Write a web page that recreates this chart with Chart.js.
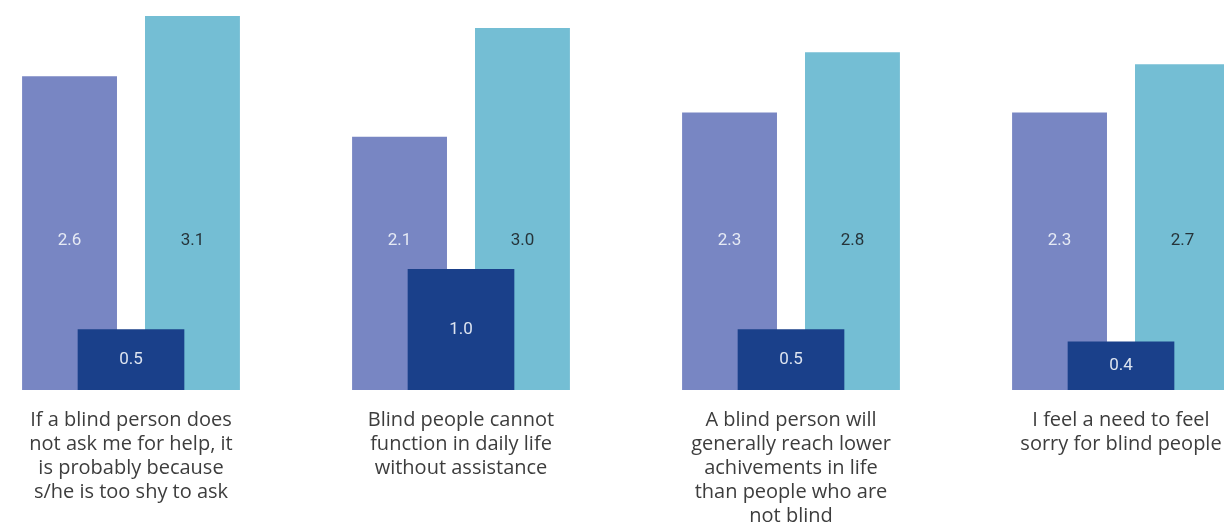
<!DOCTYPE html>
<html>
<head>
<meta charset="utf-8">
<script src="https://cdn.jsdelivr.net/npm/chart.js@4.4.1/dist/chart.umd.min.js"></script>
<style>
  html, body { margin: 0; padding: 0; background: #fff; overflow: hidden; }
  #wrap { position: absolute; left: -34px; top: 0; width: 1320px; height: 546px; }
</style>
</head>
<body>
<div id="wrap"><canvas id="attitude_chart" width="1320" height="546"></canvas></div>
<script>
// categories (statements), one array of lines each
var categories = [
  ["If a blind person does", "not ask me for help, it", "is probably because", "s/he is too shy to ask"],
  ["Blind people cannot", "function in daily life", "without assistance"],
  ["A blind person will", "generally reach lower", "achivements in life", "than people who are", "not blind"],
  ["I feel a need to feel", "sorry for blind people"]
];

// series values
var series_a = [2.6, 2.1, 2.3, 2.3];
var series_b = [3.1, 3.0, 2.8, 2.7];
var series_c = [0.5, 1.0, 0.5, 0.4];

// label colours per dataset
var labelColors = ["#e6eaf4", "#26343a", "#dde4f0"];

var valueLabels = {
  id: 'valueLabels',
  afterDatasetsDraw: function(chart) {
    var ctx = chart.ctx;
    var yScale = chart.scales.y;
    ctx.save();
    ctx.font = "17px Roboto";
    ctx.textAlign = "center";
    ctx.textBaseline = "middle";
    chart.data.datasets.forEach(function(ds, i) {
      var meta = chart.getDatasetMeta(i);
      meta.data.forEach(function(bar, j) {
        var y;
        if (ds.grouped === false) {
          y = (bar.y + bar.base) / 2;
        } else {
          y = yScale.getPixelForValue(1.24);
        }
        ctx.fillStyle = labelColors[i];
        ctx.fillText(ds.data[j].toFixed(1), bar.x, y);
      });
    });
    ctx.restore();
  }
};

var ctx = document.getElementById("attitude_chart").getContext('2d');
var attitude_chart = new Chart(ctx, {
  type: 'bar',
  data: {
    labels: categories,
    datasets: [{
      data: series_a,
      backgroundColor: "#7886c3",
      categoryPercentage: 0.745,
      barPercentage: 0.772,
      order: 1
    }, {
      data: series_b,
      backgroundColor: "#74bed4",
      categoryPercentage: 0.745,
      barPercentage: 0.772,
      order: 1
    }, {
      data: series_c,
      backgroundColor: "#1a408a",
      grouped: false,
      barThickness: 106,
      order: 0
    }]
  },
  options: {
    responsive: false,
    animation: false,
    devicePixelRatio: 1,
    layout: { padding: { top: 16, bottom: 0, left: 0, right: 0 } },
    plugins: {
      legend: { display: false },
      tooltip: { enabled: false }
    },
    scales: {
      x: {
        grid: { display: false, drawTicks: false },
        border: { display: false },
        ticks: {
          padding: 18,
          color: "#3d3d3d",
          maxRotation: 0,
          autoSkip: false,
          font: { family: "Open Sans", size: 20, lineHeight: 1.2 }
        }
      },
      y: {
        display: false,
        min: 0,
        max: 3.1
      }
    }
  },
  plugins: [valueLabels]
});
</script>
</body>
</html>
